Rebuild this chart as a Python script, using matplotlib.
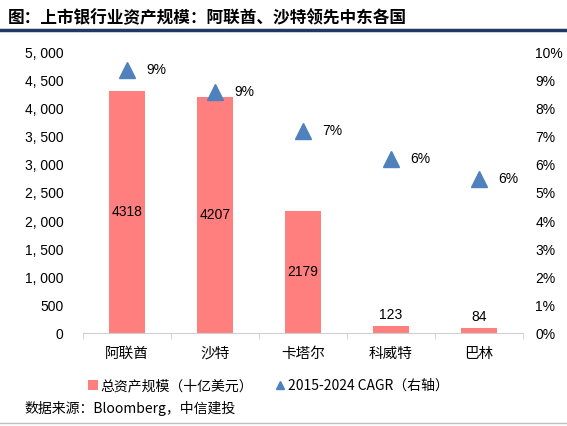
import matplotlib
matplotlib.use("Agg")
import matplotlib.pyplot as plt
from matplotlib.ticker import FuncFormatter
from matplotlib.lines import Line2D
from matplotlib.patches import Patch

plt.rcParams['font.family'] = ['Liberation Sans', 'Noto Sans CJK SC', 'DejaVu Sans']

# data
countries = ['阿联酋', '沙特', '卡塔尔', '科威特', '巴林']
assets = [4318, 4207, 2179, 123, 84]          # 十亿美元
cagr = [9.4, 8.6, 7.2, 6.2, 5.5]              # %, right axis
cagr_labels = ['9%', '9%', '7%', '6%', '6%']

bar_color = '#FF7F7F'
tri_color = '#4F81BD'

fig = plt.figure(figsize=(5.67, 4.26), dpi=100)
ax = fig.add_axes([0.146, 0.218, 0.776, 0.658])
ax2 = ax.twinx()

x = list(range(len(countries)))
bars = ax.bar(x, assets, width=0.41, color=bar_color, zorder=2)
for xi, v in zip(x, assets):
    if v > 1000:
        ax.text(xi, v / 2, str(v), ha='center', va='center', fontsize=10, color='black')
    else:
        ax.text(xi, v + 80, str(v), ha='center', va='bottom', fontsize=10, color='black')

ax2.plot(x, cagr, linestyle='none', marker='^', markersize=11, color=tri_color, zorder=3)
for xi, v, lab in zip(x, cagr, cagr_labels):
    ax2.text(xi + 0.22, v, lab, ha='left', va='center', fontsize=10, color='black')

ax.set_xlim(-0.5, len(countries) - 0.5)
ax.set_ylim(0, 5000)
ax.set_yticks(range(0, 5001, 500))
ax.yaxis.set_major_formatter(FuncFormatter(lambda v, p: f'{int(v):,}'.replace(',', ', ')))
ax2.set_ylim(0, 10)
ax2.set_yticks(range(0, 11))
ax2.yaxis.set_major_formatter(FuncFormatter(lambda v, p: f'{int(v)}%'))

ax.set_xticks(x)
ax.set_xticklabels(countries, fontsize=10.5)
ax.set_xticks([i - 0.5 for i in range(len(countries) + 1)], minor=True)
ax.tick_params(axis='x', which='major', length=0, pad=10)
ax.tick_params(axis='x', which='minor', length=4, color='#D0D0D0', direction='out')
ax.tick_params(axis='y', length=0, labelsize=10, pad=14)
ax2.tick_params(axis='y', length=0, labelsize=10, pad=9)

for a in (ax, ax2):
    for s in ['top', 'left', 'right']:
        a.spines[s].set_visible(False)
    a.spines['bottom'].set_color('#D0D0D0')
ax2.spines['bottom'].set_visible(False)

# title and header rule
fig.text(0.014, 0.957, '图：上市银行业资产规模：阿联酋、沙特领先中东各国',
         fontsize=12, fontweight='bold', ha='left', va='center',
         family=['Noto Sans CJK SC'])
fig.add_artist(Line2D([0, 1], [0.929, 0.929], color='#1F3864', linewidth=2.5,
                      transform=fig.transFigure))

# legend
handles = [Patch(facecolor=bar_color, edgecolor='none'),
           Line2D([], [], linestyle='none', marker='^', markersize=6, color=tri_color)]
fig.legend(handles, ['总资产规模（十亿美元）', '2015-2024 CAGR（右轴）'],
           loc='center', bbox_to_anchor=(0.473, 0.094), ncol=2, frameon=False,
           handlelength=0.7, handletextpad=0.2, columnspacing=1.6,
           prop={'family': ['Noto Sans CJK SC'], 'size': 10})

fig.text(0.044, 0.040, '数据来源：Bloomberg，中信建投', fontsize=10, ha='left', va='center',
         family=['Noto Sans CJK SC'])
fig.add_artist(Line2D([0, 1], [0.006, 0.006], color='#BFBFBF', linewidth=1,
                      transform=fig.transFigure))

fig.savefig('out.png', dpi=100)
